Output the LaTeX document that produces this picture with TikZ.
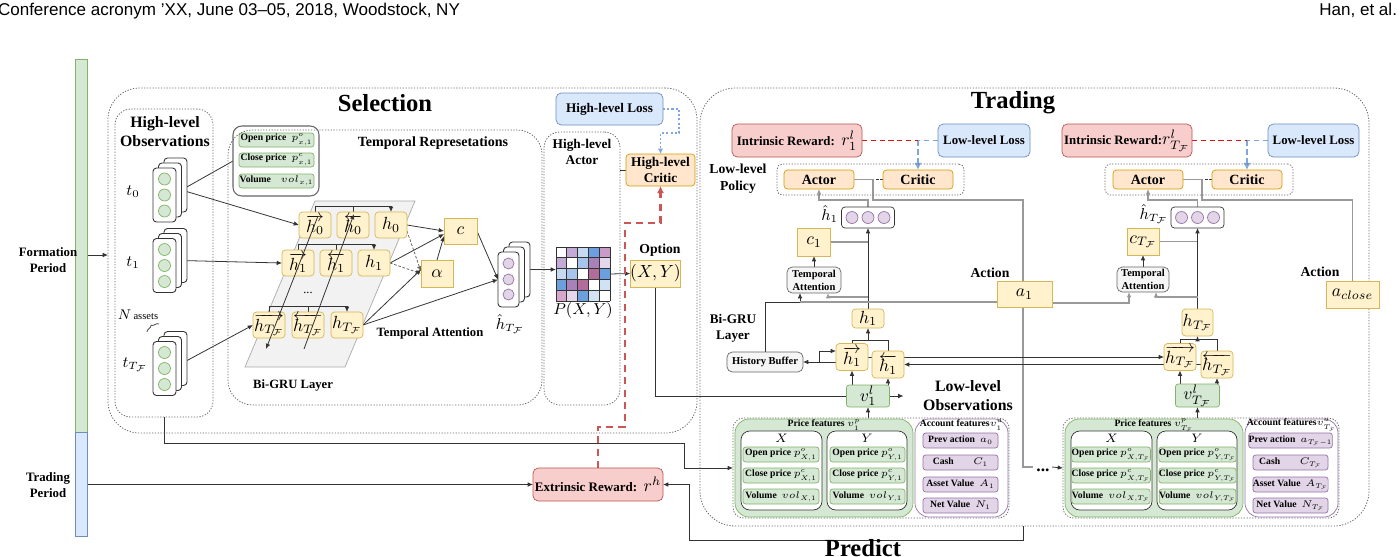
\RequirePackage{fix-cm}
\documentclass[tikz,border=0pt]{standalone}
\usepackage{fontspec}
\setmainfont{Liberation Serif}
\newfontfamily\hdrfont{Liberation Sans}[Ligatures=TeX]
\usetikzlibrary{arrows.meta,calc,decorations.pathreplacing}
\definecolor{yel}{HTML}{FFF2CC}\definecolor{yelB}{HTML}{D6B656}
\definecolor{grn}{HTML}{D5E8D4}\definecolor{grnB}{HTML}{82B366}
\definecolor{blu}{HTML}{DAE8FC}\definecolor{bluB}{HTML}{6C8EBF}
\definecolor{org}{HTML}{FFE6CC}\definecolor{orgB}{HTML}{D79B00}
\definecolor{redF}{HTML}{F8CECC}\definecolor{redB}{HTML}{B85450}
\definecolor{pur}{HTML}{E1D5E7}\definecolor{purB}{HTML}{9673A6}
\definecolor{gy}{HTML}{F5F5F5}\definecolor{gyB}{HTML}{666666}
\definecolor{dk}{HTML}{333333}\definecolor{gyl}{HTML}{999999}
\definecolor{plg}{HTML}{F2F2F2}\definecolor{plgB}{HTML}{AAAAAA}
\definecolor{rdS}{HTML}{CC5555}\definecolor{rdT}{HTML}{DD1111}
\definecolor{lbd}{HTML}{7EA6E0}
\definecolor{mcW}{HTML}{FFFFFF}\definecolor{mcLP}{HTML}{C3AAD7}
\definecolor{mcLB}{HTML}{C6DBF2}\definecolor{mcB}{HTML}{6C9FDD}
\definecolor{mcPP}{HTML}{C89CC6}\definecolor{mcP2}{HTML}{A881B8}
\definecolor{mcLL}{HTML}{E5D8EC}\definecolor{mcMB}{HTML}{A6C4EC}
\definecolor{mcM}{HTML}{B26C9A}\definecolor{mcPK}{HTML}{D6A7CB}
\definecolor{mcVB}{HTML}{D2E2F5}
\pgfdeclarelayer{back}\pgfdeclarelayer{bg}
\pgfsetlayers{back,bg,main}
\newcommand\fz[2]{\fontsize{#1}{#2}\selectfont}
\tikzset{
 wh/.style n args={2}{minimum width=#1*0.02cm,minimum height=#2*0.02cm},
 ybox/.style={draw=yelB,fill=yel,rounded corners=2pt,font=\fz{10}{12}},
 ysq/.style={draw=yelB,fill=yel,font=\fz{10}{12}},
 gbox/.style={draw=grnB,fill=grn,rounded corners=1.5pt},
 pbox/.style={draw=purB,fill=pur,rounded corners=1.5pt},
 rbox/.style={draw=redB,fill=redF,rounded corners=3pt},
 bbox/.style={draw=bluB,fill=blu,rounded corners=3pt},
 obox/.style={draw=orgB,fill=org,rounded corners=2pt},
 gybox/.style={draw=gyB,fill=gy,rounded corners=3pt},
 dotbox/.style={draw=gyB,line width=0.45pt,dash pattern=on 0.7pt off 0.9pt},
 stk/.style={draw=dk,fill=white,rounded corners=2pt,line width=0.5pt},
 gcirc/.style={circle,draw=grnB,fill=grn,minimum size=12*0.02cm},
 pcirc/.style={circle,draw=purB,fill=pur,minimum size=12*0.02cm},
 ln/.style={draw=dk,line width=0.45pt},
 arr/.style={ln,-{Latex[length=3pt,width=2.6pt]}},
 gln/.style={draw=gyl,line width=0.6pt},
 garr/.style={gln,-{Latex[length=3pt,width=2.6pt]}},
 bt/.style n args={2}{font=\bfseries\fz{#1}{#2},align=center},
 ft/.style={font=\fz{5.5}{6.5}},
 mt/.style={font=\fz{9}{11}},
 obsstack/.pic={
  \node[stk,wh={23}{54}] (-c) at (11,-10) {};
  \node[stk,wh={23}{54}] (-b) at (5.5,-5) {};
  \node[stk,wh={23}{54}] (-a) at (0,0) {};
  \foreach \yy in {-16,0,16} \node[gcirc] at (0,\yy) {};
 },
 hatstack/.pic={
  \node[stk,wh={21}{55}] (-c) at (11,-10) {};
  \node[stk,wh={21}{55}] (-b) at (5.5,-5) {};
  \node[stk,wh={21}{55}] (-a) at (0,0) {};
  \foreach \yy in {-16,0,15} \node[pcirc,minimum size=11*0.02cm] at (0,\yy) {};
 }
}
\newcommand\featblk[4]{%
 \begin{scope}[shift={(#2,0)}]
  \node[dotbox,rounded corners=6pt,wh={276}{100}] (#1out) at (138,468) {};
  \node[gbox,rounded corners=8pt,wh={178}{98}] (#1pr) at (91,468) {};
  \node[draw=purB,fill=white,rounded corners=8pt,wh={93}{98}] (#1acc) at (228.5,468) {};
  \node[draw=dk,fill=white,rounded corners=5pt,wh={81}{79}] (#1X) at (48.5,470.5) {};
  \node[draw=dk,fill=white,rounded corners=5pt,wh={80}{79}] (#1Y) at (134,470.5) {};
  \node[ft] at (91,425) {\textbf{Price features}~$v^p_{#3}$};
  \node[ft] at (228.5,425) {\textbf{Account features}$v^a_{#3}$};
  \node[font=\fz{7}{8}] at (48.5,438) {$X$};
  \node[font=\fz{7}{8}] at (134,438) {$Y$};
  \node[gbox,wh={76}{15},ft] at (48,454.5) {\textbf{Open price}~$p^o_{X,#3}$};
  \node[gbox,wh={76}{15},ft] at (48,475.5) {\textbf{Close price}~$p^c_{X,#3}$};
  \node[gbox,wh={76}{15},ft] at (48,496.5) {\textbf{Volume}~~$vol_{X,#3}$};
  \node[gbox,wh={75}{15},ft] at (134.5,454.5) {\textbf{Open price}~$p^o_{Y,#3}$};
  \node[gbox,wh={75}{15},ft] at (134.5,475.5) {\textbf{Close price}~$p^c_{Y,#3}$};
  \node[gbox,wh={75}{15},ft] at (134.5,496.5) {\textbf{Volume}~~$vol_{Y,#3}$};
  \node[pbox,wh={75}{15},ft] at (227.5,440.5) {\textbf{Prev action}~~$a_{#4}$};
  \node[pbox,wh={75}{15},ft] at (227.5,462.5) {\textbf{Cash}\qquad$C_{#3}$};
  \node[pbox,wh={75}{15},ft] at (227.5,484.5) {\textbf{Asset Value}~~$A_{#3}$};
  \node[pbox,wh={75}{15},ft] at (227.5,505.5) {\textbf{Net Value}~~$N_{#3}$};
 \end{scope}}
\begin{document}
\begin{tikzpicture}[x=0.02cm,y=-0.02cm,every node/.style={inner sep=0pt,outer sep=0pt}]
\useasboundingbox (0,0) rectangle (1400,556);
% header
\node[anchor=base west,font=\hdrfont\fz{9.7}{11}] at (-2,15) {Conference acronym ’XX, June 03--05, 2018, Woodstock, NY};
\node[anchor=base east,font=\hdrfont\fz{9.7}{11}] at (1397,15) {Han, et al.};
% period bars
\node[draw=grnB,fill=grn,wh={12}{373}] (greenbar) at (81,245.5) {};
\node[draw=bluB,fill=blu,wh={12}{104}] (bluebar) at (81,484) {};
\node[bt={7.3}{8.8}] at (48,260) {Formation\\Period};
\node[bt={7.3}{8.8}] at (48,485) {Trading\\Period};
% ---------------- Selection ----------------
\node[dotbox,rounded corners=18pt,wh={589}{345}] (sel) at (402.5,260.5) {};
\node[bt={14}{16}] at (385,103) {Selection};
\node[dotbox,rounded corners=9pt,wh={98}{308}] (hlo) at (164,263) {};
\node[bt={9}{10.8}] at (165,132) {High-level\\Observations};
\pic (s0) at (164.5,195) {obsstack};
\pic (s1) at (164.5,265.5) {obsstack};
\pic (sT) at (164.5,368.5) {obsstack};
\node[mt] at (133,192) {$t_0$};
\node[mt] at (133,263) {$t_1$};
\node[mt] at (135,365) {$t_{T_{\mathcal F}}$};
\node[font=\fz{8}{9}] at (138,315) {$N$\,{\fz{6}{7}assets}};
\draw[dk,line width=0.4pt,decorate,decoration={brace,amplitude=2pt}] (147,332) -- (159,324);
% features box
\node[draw=gyB,fill=white,rounded corners=5pt,line width=0.6pt,wh={86}{70}] (sfeat) at (276,161) {};
\node[gbox,wh={75}{14},ft] at (276.5,140) {\textbf{Open price}~~$p^o_{x,1}$};
\node[gbox,wh={75}{14},ft] at (276.5,160) {\textbf{Close price}~~$p^c_{x,1}$};
\node[gbox,wh={75}{14},ft] at (276.5,181) {\textbf{Volume}~~~~$vol_{x,1}$};
% temporal
\node[dotbox,rounded corners=14pt,wh={314}{275}] (temp) at (385,267.5) {};
\node[bt={8}{9}] at (433,143) {Temporal Represetations};
\begin{pgfonlayer}{back}
\filldraw[fill=plg,draw=plgB,line width=0.4pt] (315,201) -- (415,201) -- (345,367) -- (245,367) -- cycle;
\end{pgfonlayer}
\node[ybox,wh={32}{26}] (sfh0) at (315,225) {$\overrightarrow{h_0}$};
\node[ybox,wh={32}{26}] (sbh0) at (353,225) {$\overleftarrow{h_0}$};
\node[ybox,wh={32}{26}] (sh0) at (391,225) {$h_0$};
\node[ybox,wh={32}{26}] (sfh1) at (298,263) {$\overrightarrow{h_1}$};
\node[ybox,wh={32}{26}] (sbh1) at (336,263) {$\overleftarrow{h_1}$};
\node[ybox,wh={32}{26}] (sh1) at (374,263) {$h_1$};
\node[ybox,wh={32}{26}] (sfhT) at (269,325) {$\overrightarrow{h_{T_{\mathcal F}}}$};
\node[ybox,wh={32}{26}] (sbhT) at (308,325) {$\overleftarrow{h_{T_{\mathcal F}}}$};
\node[ybox,wh={32}{26}] (shT) at (347,325) {$h_{T_{\mathcal F}}$};
\node[font=\fz{7}{8}] at (308,293) {...};
\node[bt={7.2}{8.5}] at (293,385) {Bi-GRU Layer};
\node[bt={7.2}{8.5}] at (430,333) {Temporal Attention};
\node[ysq,wh={33}{26}] (sc) at (460.5,231) {$c$};
\node[ysq,wh={32}{27}] (sa) at (437,273.5) {$\alpha$};
\pic (hs) at (508.5,279.5) {hatstack};
\node[mt] at (510,324) {$\hat{h}_{T_{\mathcal F}}$};
% high-level actor
\node[dotbox,rounded corners=9pt,wh={76}{273}] (hla) at (582,268.5) {};
\node[bt={7.6}{9.5}] at (582,152) {High-level\\Actor};
\node[wh={54}{54}] (mat) at (583,274) {};
\foreach \row [count=\r] in {{W,LP,LB,B,PP},{LP,W,MB,P2,LL},{LB,MB,W,M,B},{B,P2,M,W,VB},{PK,LL,B,VB,W}}{
  \foreach \col [count=\c] in \row {
    \fill[mc\col] ({556+(\c-1)*10.8},{247+(\r-1)*10.8}) rectangle ++(10.8,10.8);
  }
}
\foreach \i in {0,...,5}{
  \draw[dk,line width=0.5pt] ({556+\i*10.8},247) -- ({556+\i*10.8},301);
  \draw[dk,line width=0.5pt] (556,{247+\i*10.8}) -- (610,{247+\i*10.8});
}
\node[mt] at (583,311) {$P(X,Y)$};
\node[ysq,wh={45}{27}] (opt) at (655.5,273.5) {$(X,Y)$};
\node[bt={7.8}{9}] at (660,250) {Option};
\node[bbox,wh={107}{32}] (hll) at (609.5,109) {\fz{7.5}{9}\textbf{High-level Loss}};
\node[obox,wh={69}{32},bt={7.6}{9.2}] (hlc) at (660.5,170) {High-level\\Critic};
% ---------------- Trading ----------------
\node[dotbox,rounded corners=20pt,wh={669}{438}] (trd) at (1034.5,307) {};
\node[bt={14}{16}] at (1013,103) {Trading};
% column 1
\node[rbox,wh={130}{33}] (ir1) at (797,140.5) {\fz{7.3}{8}\textbf{Intrinsic Reward:}~~\fz{10}{11}$r^l_1$};
\node[bbox,wh={92}{33}] (ll1) at (984,140.5) {\fz{7.3}{8}\textbf{Low-level Loss}};
\node[dotbox,rounded corners=3pt,wh={187}{31}] (pol1) at (870.5,179.5) {};
\node[obox,wh={70}{19}] (ac1) at (819,179.5) {\fz{8}{9}\textbf{Actor}};
\node[obox,wh={70}{19}] (cr1) at (918,179.5) {\fz{8}{9}\textbf{Critic}};
\node[bt={7.8}{9.5}] at (738,179) {Low-level\\Policy};
\node[draw=dk,fill=white,rounded corners=2pt,wh={53}{21}] (hh1) at (868,217.5) {};
\foreach \dx in {-16,0,16} \node[pcirc] at ($(hh1)+(\dx,0)$) {};
\node[mt,anchor=east] at (838,214) {$\hat{h}_1$};
\node[ysq,wh={33}{28}] (c1) at (814,242) {$c_1$};
\node[gybox,wh={54}{26},bt={6}{7.5}] (ta1) at (814,280) {Temporal\\Attention};
\node[bt={7.8}{9}] at (990,273) {Action};
\node[ysq,wh={55}{26}] (a1) at (1024.5,294) {$a_1$};
\node[bt={7.5}{9}] at (733,328) {Bi-GRU\\Layer};
\node[ybox,wh={32}{19}] (h1t) at (868,318.5) {$h_1$};
\node[ybox,wh={32}{27}] (fh1) at (852,357) {$\overrightarrow{h_1}$};
\node[ybox,wh={32}{27}] (bh1) at (888,364.5) {$\overleftarrow{h_1}$};
\node[gbox,wh={43}{22},font=\fz{10}{12}] (v1l) at (868,396) {$v^l_1$};
\node[gybox,wh={76}{20},font=\bfseries\fz{6}{7}] (hb) at (765,362) {History Buffer};
\node[bt={9}{10.8}] at (968,396) {Low-level\\Observations};
\featblk{fA}{733}{1}{0}
% column T
\node[rbox,wh={130}{33}] (ir2) at (1127,140.5) {\fz{7.3}{8}\textbf{Intrinsic Reward:}\fz{10}{11}$r^l_{T_{\mathcal F}}$};
\node[bbox,wh={91}{33}] (ll2) at (1313.5,140.5) {\fz{7.3}{8}\textbf{Low-level Loss}};
\node[dotbox,rounded corners=3pt,wh={188}{31}] (pol2) at (1199,179.5) {};
\node[obox,wh={70}{19}] (ac2) at (1148,179.5) {\fz{8}{9}\textbf{Actor}};
\node[obox,wh={70}{19}] (cr2) at (1247,179.5) {\fz{8}{9}\textbf{Critic}};
\node[draw=dk,fill=white,rounded corners=2pt,wh={53}{21}] (hhT) at (1197.5,217.5) {};
\foreach \dx in {-16,0,16} \node[pcirc] at ($(hhT)+(\dx,0)$) {};
\node[mt,anchor=east] at (1168,214) {$\hat{h}_{T_{\mathcal F}}$};
\node[ysq,wh={32}{27}] (cT) at (1143,241.5) {$c_{T_{\mathcal F}}$};
\node[gybox,wh={52}{25},bt={6}{7.5}] (ta2) at (1143,279.5) {Temporal\\Attention};
\node[bt={7.8}{9}] at (1320,272) {Action};
\node[ysq,wh={53}{27}] (acl) at (1352.5,294.5) {$a_{close}$};
\node[ybox,wh={31}{27}] (hTt) at (1197.5,322.5) {$h_{T_{\mathcal F}}$};
\node[ybox,wh={32}{27}] (fhT) at (1180,357) {$\overrightarrow{h_{T_{\mathcal F}}}$};
\node[ybox,wh={32}{27}] (bhT) at (1217,364.5) {$\overleftarrow{h_{T_{\mathcal F}}}$};
\node[gbox,wh={44}{23},font=\fz{10}{12}] (vT) at (1197.5,395.5) {$v^l_{T_{\mathcal F}}$};
\featblk{fB}{1063}{T_{\mathcal F}}{T_{\mathcal F}-1}
\node[font=\bfseries\fz{10}{10}] (dots) at (1043,470) {...};
\coordinate (pr) at (1023,526);
% extrinsic reward
\node[rbox,wh={130}{33}] (er) at (598,484.5) {\fz{7.4}{9}\textbf{Extrinsic Reward:}~~\fz{10}{11}$r^h$};
\node[bt={14}{16}] at (863,548) {Predict};
% ---------------- connectors ----------------
\begin{pgfonlayer}{bg}
\draw[arr] (greenbar.east |- 0,255) -- (sel.west |- 0,255);
\draw[arr] (bluebar.east |- er.west) -- (er.west);
\draw[arr] (hlo.south) |- (684,443) |- (fAout.west);
\draw[ln] (s0-b.east) -- (sfeat.west);
\draw[arr] (s0-b.east) -- (sfh0.west);
\draw[arr] (s1-b.east) -- (sfh1.west);
\draw[arr] (sT-b.east) -- (sfhT.west);
\draw[arr] (sfh0.north) -- ++(0,-6) -| (sh0.north);
\draw[ln] (sbh0.north) -- ++(0,-6);
\draw[arr] (sfh1.north) -- ++(0,-6) -| (sh1.north);
\draw[ln] (sbh1.north) -- ++(0,-6);
\draw[arr] (sfhT.north) -- ++(0,-6) -| (shT.north);
\draw[ln] (sbhT.north) -- ++(0,-6);
\draw[arr] (sh0.east) -- (sc.west);
\draw[arr] (sh1.east) -- ($(sc.west)+(0,3)$);
\draw[arr,gyB,dash pattern=on 1.5pt off 1pt] ($(sh0.east)+(0,6)$) -- ($(sa.west)+(0,-2)$);
\draw[arr,gyB,dash pattern=on 1.5pt off 1pt] (sh1.east) -- (sa.west);
\draw[arr] (shT.east) -- ($(sa.west)+(0,-4)$);
\draw[arr] (sa.north) -- ($(sc.west)+(0,5)$);
\draw[arr] (shT.east) -- (hs-a.west);
\draw[arr] (sc.east) -- (hs-a.west);
\draw[arr] (hs-c.east) -- (hs-c.east -| mat.west);
\draw[arr] (mat.east) -- (opt.west);
\draw[ln] (hla.east |- hlc.west) -- (hlc.west);
\draw[lbd,line width=0.7pt,dash pattern=on 1.2pt off 1.2pt,-{Latex[length=3pt,width=3pt]}] (hll.east) -- (679,109) -- (679,133) -- (660.5,133) -- (hlc.north);
\draw[rdS,line width=1.2pt,dash pattern=on 4pt off 3pt,-{Latex[length=4pt,width=4pt]}] (er.north) |- (625,427) |- (660.5,223) -- (hlc.south);
\draw[ln] (opt.south) |- (v1l.west);
\draw[arr] (v1l.east) -- ++(14,0);
% trading col 1
\draw[dk,line width=0.5pt,dash pattern=on 1.5pt off 1pt] (ac1.east) -- (cr1.west);
\draw[gln] (ac1.east) -- (873,179.5) |- (1023,200) -- (1023,467) -- (1033,467);
\draw[arr] (1052,467) -- (fBout.west);
\draw[arr] (pr) -- (1023,540) -| (689,484.5) -- (er.east);
\draw[rdT,line width=1pt,dash pattern=on 3pt off 2pt] (ir1.east) -- (cr1.north |- ir1.east);
\draw[lbd,line width=1pt,dash pattern=on 3pt off 2pt] (ll1.west) -- (cr1.north |- ll1.west);
\draw[lbd,line width=1pt,dash pattern=on 3pt off 2pt,-{Latex[length=4pt,width=4pt]}] (cr1.north |- ll1.west) -- (cr1.north);
\draw[garr] (hh1.north) -- ++(0,-7) -| (ac1.south);
\draw[gln] (c1.east) -- (c1.east -| hh1.south);
\draw[arr] (h1t.north) -- (hh1.south);
\draw[arr] (ta1.north) -- (c1.south);
\draw[garr] (h1t.north |- 0,297) -| ($(ta1.south)+(14,0)$);
\draw[arr] (hb.north) |- (800,302) -- ($(ta1.south)+(-14,0)$);
\draw[gln] (a1.west |- 0,302) -- (800,302);
\draw[garr] (a1.east |- 0,303) -| ($(ta2.south)+(-14,0)$);
\draw[ln] (fh1.north) -- ++(0,-3) -| (bh1.north);
\draw[arr] (h1t.south |- 0,341) -- (h1t.south);
\draw[arr] (v1l.north -| fh1.south) -- (fh1.south);
\draw[arr] (v1l.north -| bh1.south) -- (bh1.south);
\draw[arr] (fAout.north -| v1l.south) -- (v1l.south);
\draw[arr] (fh1.west |- hb.east) -- (hb.east);
\draw[arr] ($(hb.east)+(16,0)$) |- ($(fh1.west)+(0,-6)$);
\draw[arr] (fh1.east) -- (fhT.west);
\draw[arr] (bhT.west) -- (bh1.east);
% trading col T
\draw[dk,line width=0.5pt,dash pattern=on 1.5pt off 1pt] (ac2.east) -- (cr2.west);
\draw[gln] (ac2.east) -- (1202,179.5) |- (1352.5,200) -- (acl.north);
\draw[rdT,line width=1pt,dash pattern=on 3pt off 2pt] (ir2.east) -- (cr2.north |- ir2.east);
\draw[lbd,line width=1pt,dash pattern=on 3pt off 2pt] (ll2.west) -- (cr2.north |- ll2.west);
\draw[lbd,line width=1pt,dash pattern=on 3pt off 2pt,-{Latex[length=4pt,width=4pt]}] (cr2.north |- ll2.west) -- (cr2.north);
\draw[garr] (hhT.north) -- ++(0,-7) -| (ac2.south);
\draw[gln] (cT.east) -- (cT.east -| hhT.south);
\draw[arr] (hTt.north) -- (hhT.south);
\draw[arr] (ta2.north) -- (cT.south);
\draw[garr] (hTt.north |- 0,297) -| ($(ta2.south)+(13,0)$);
\draw[ln] (fhT.north) -- ++(0,-4) -| (bhT.north);
\draw[arr] (hTt.south |- 0,339) -- (hTt.south);
\draw[arr] (vT.north -| fhT.south) -- (fhT.south);
\draw[arr] (vT.north -| bhT.south) -- (bhT.south);
\draw[arr] (fBout.north -| vT.south) -- (vT.south);
\end{pgfonlayer}
% diagonal bi-GRU arrows on top
\draw[arr] (318,216) -- (266,349);
\draw[arr] (304,349) -- (354,214);
\end{tikzpicture}
\end{document}
